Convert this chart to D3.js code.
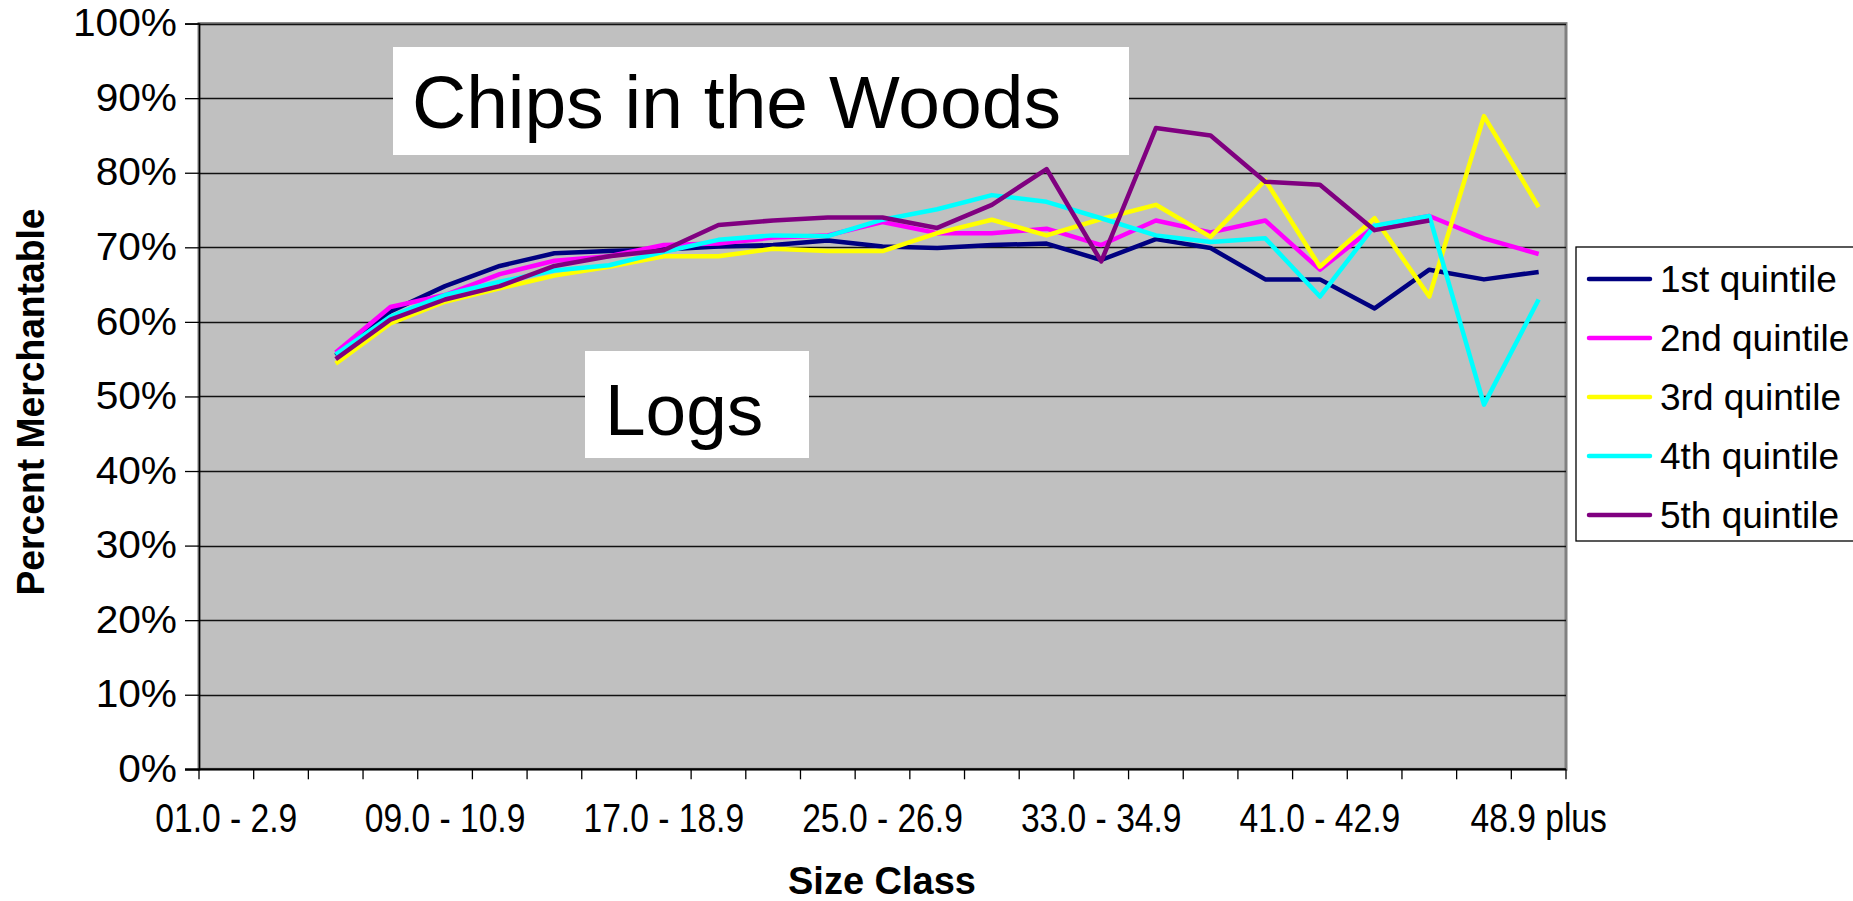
<!DOCTYPE html>
<html>
<head>
<meta charset="utf-8">
<script src="https://cdn.jsdelivr.net/npm/d3@7"></script>
<style>
  body { margin: 0; background: #fff; }
  text { font-family: "Liberation Sans", Arial, sans-serif; }
</style>
</head>
<body>
<svg id="chart" width="1853" height="901"></svg>
<script>
// size classes (x categories)
var sizeClasses = ["01.0 - 2.9", "03.0 - 4.9", "05.0 - 6.9", "07.0 - 8.9", "09.0 - 10.9",
    "11.0 - 12.9", "13.0 - 14.9", "15.0 - 16.9", "17.0 - 18.9", "19.0 - 20.9",
    "21.0 - 22.9", "23.0 - 24.9", "25.0 - 26.9", "27.0 - 28.9", "29.0 - 30.9",
    "31.0 - 32.9", "33.0 - 34.9", "35.0 - 36.9", "37.0 - 38.9", "39.0 - 40.9",
    "41.0 - 42.9", "43.0 - 44.9", "45.0 - 46.9", "47.0 - 48.9", "48.9 plus"]

var quintiles = ["1st quintile", "2nd quintile", "3rd quintile", "4th quintile", "5th quintile"]

// percent merchantable, one list per quintile
var q1 = [null, null, 55.5, 61.4, 64.8, 67.5, 69.2, 69.5, 69.7, 70.1, 70.3, 70.9, 70.1,
    69.9, 70.3, 70.5, 68.3, 71.1, 69.9, 65.7, 65.7, 61.8, 67.0, 65.7, 66.7]
var q2 = [null, null, 55.9, 62.0, 63.6, 66.4, 68.2, 68.8, 70.3, 70.5, 71.3, 71.6, 73.4,
    71.9, 71.9, 72.5, 70.3, 73.6, 72.0, 73.6, 67.0, 72.8, 74.2, 71.2, 69.1]
var q3 = [null, null, 54.4, 59.8, 62.7, 64.5, 66.2, 67.4, 68.8, 68.8, 69.8, 69.5, 69.5,
    71.9, 73.7, 71.6, 73.8, 75.7, 71.4, 79.0, 67.4, 73.9, 63.4, 87.6, 75.4]
var q4 = [null, null, 55.6, 60.7, 63.6, 65.4, 66.9, 67.6, 69.4, 71.0, 71.6, 71.5, 73.7,
    75.1, 77.0, 76.1, 73.9, 71.6, 70.7, 71.2, 63.4, 72.9, 74.2, 48.9, 63.0]
var q5 = [null, null, 55.0, 60.3, 63.0, 64.8, 67.5, 68.8, 69.6, 73.0, 73.6, 74.0, 74.0,
    72.6, 75.7, 80.5, 68.1, 86.0, 85.0, 78.8, 78.4, 72.3, 73.6, null, null]

var yTicks = [0, 10, 20, 30, 40, 50, 60, 70, 80, 90, 100]

var lineColors = ["#000080", "#ff00ff", "#ffff00", "#00ffff", "#800080"]

var series = [q1, q2, q3, q4, q5].map(function(vals, i) {
    return { name: quintiles[i], color: lineColors[i], values: vals }
})

var dims = { left: 199, right: 1566, top: 23.6, bottom: 769.3 }

var svg = d3.select("#chart")

// squeeze or stretch a text horizontally, keeping its height
function stretch(sel, factor) {
    sel.each(function() {
        var len = this.getComputedTextLength()
        d3.select(this)
            .attr("textLength", len * factor)
            .attr("lengthAdjust", "spacingAndGlyphs")
    })
}

var x = d3.scaleBand()
    .domain(sizeClasses)
    .range([dims.left, dims.right])
    .padding(0)

var y = d3.scaleLinear()
    .domain([0, 100])
    .range([dims.bottom, dims.top])

// plot area
svg.append("rect")
    .attr("x", dims.left)
    .attr("y", dims.top)
    .attr("width", dims.right - dims.left)
    .attr("height", dims.bottom - dims.top)
    .attr("fill", "#c0c0c0")
    .attr("stroke", "#808080")
    .attr("stroke-width", 3)

// gridlines
svg.append("g")
    .selectAll("line")
    .data(yTicks.slice(1))
    .enter()
    .append("line")
        .attr("x1", dims.left)
        .attr("x2", dims.right)
        .attr("y1", function(d) { return Math.round(y(d)) + 0.5 })
        .attr("y2", function(d) { return Math.round(y(d)) + 0.5 })
        .attr("stroke", "#111")
        .attr("stroke-width", 1.4)

// y axis
var yAxis = svg.append("g")
    .attr("transform", "translate(" + dims.left + ",0)")
    .call(d3.axisLeft(y).tickValues(yTicks).tickSize(14).tickPadding(8)
        .tickFormat(function(d) { return d + "%" }))
yAxis.select(".domain").attr("stroke", "#000").attr("stroke-width", 1.5)
yAxis.selectAll(".tick line").attr("stroke", "#000").attr("stroke-width", 1.3)
yAxis.selectAll(".tick text")
    .attr("font-size", 38)
    .attr("fill", "#000")
    .attr("font-family", "Liberation Sans, Arial, sans-serif")
    .call(stretch, 1.07)

// x axis line and ticks at category boundaries
var xAxis = svg.append("g")
xAxis.append("line")
    .attr("x1", dims.left - 14)
    .attr("x2", dims.right)
    .attr("y1", dims.bottom)
    .attr("y2", dims.bottom)
    .attr("stroke", "#000")
    .attr("stroke-width", 2)

var bounds = sizeClasses.map(function(d) { return x(d) }).concat([x.range()[1]])
xAxis.selectAll(".xtick")
    .data(bounds)
    .enter()
    .append("line")
        .attr("class", "xtick")
        .attr("x1", function(d) { return d })
        .attr("x2", function(d) { return d })
        .attr("y1", dims.bottom)
        .attr("y2", dims.bottom + 10)
        .attr("stroke", "#000")
        .attr("stroke-width", 1.3)

xAxis.selectAll(".xlabel")
    .data(sizeClasses.filter(function(d, i) { return i % 4 === 0 }))
    .enter()
    .append("text")
        .attr("class", "xlabel")
        .attr("x", function(d) { return x(d) + x.bandwidth() / 2 })
        .attr("y", 832)
        .attr("text-anchor", "middle")
        .attr("font-size", 40)
        .text(function(d) { return d })
        .call(stretch, 0.84)

// axis titles
svg.append("text")
    .attr("transform", "translate(44,402) rotate(-90)")
    .attr("text-anchor", "middle")
    .attr("font-size", 38)
    .attr("font-weight", "bold")
    .text("Percent Merchantable")
    .call(stretch, 0.98)

svg.append("text")
    .attr("x", 882)
    .attr("y", 894)
    .attr("text-anchor", "middle")
    .attr("font-size", 38)
    .attr("font-weight", "bold")
    .text("Size Class")

// lines
var line = d3.line()
    .defined(function(d) { return d != null })
    .x(function(d, i) { return x(sizeClasses[i]) + x.bandwidth() / 2 })
    .y(function(d) { return y(d) })

svg.append("g")
    .selectAll("path")
    .data(series)
    .enter()
    .append("path")
        .attr("fill", "none")
        .attr("stroke", function(d) { return d.color })
        .attr("stroke-width", 4.5)
        .attr("stroke-linejoin", "round")
        .attr("d", function(d) { return line(d.values) })

// text boxes
var boxes = [
    { text: "Chips in the Woods", x: 393, y: 47, w: 736, h: 108, tx: 412, ty: 128, size: 75 },
    { text: "Logs", x: 585, y: 351, w: 224, h: 107, tx: 605, ty: 435, size: 73 }
]
var boxG = svg.append("g").selectAll("g").data(boxes).enter().append("g")
boxG.append("rect")
    .attr("x", function(d) { return d.x })
    .attr("y", function(d) { return d.y })
    .attr("width", function(d) { return d.w })
    .attr("height", function(d) { return d.h })
    .attr("fill", "#fff")
boxG.append("text")
    .attr("x", function(d) { return d.tx })
    .attr("y", function(d) { return d.ty })
    .attr("font-size", function(d) { return d.size })
    .text(function(d) { return d.text })

// legend
var legend = svg.append("g")
legend.append("rect")
    .attr("x", 1576)
    .attr("y", 247)
    .attr("width", 300)
    .attr("height", 294)
    .attr("fill", "#fff")
    .attr("stroke", "#000")
    .attr("stroke-width", 1.3)

var items = legend.selectAll(".item")
    .data(series)
    .enter()
    .append("g")
        .attr("class", "item")
        .attr("transform", function(d, i) { return "translate(0," + (279 + i * 59) + ")" })
items.append("line")
    .attr("x1", 1589)
    .attr("x2", 1650)
    .attr("stroke", function(d) { return d.color })
    .attr("stroke-width", 4.5)
    .attr("stroke-linecap", "round")
items.append("text")
    .attr("x", 1660)
    .attr("dy", "0.35em")
    .attr("font-size", 37)
    .text(function(d) { return d.name })
</script>
</body>
</html>
